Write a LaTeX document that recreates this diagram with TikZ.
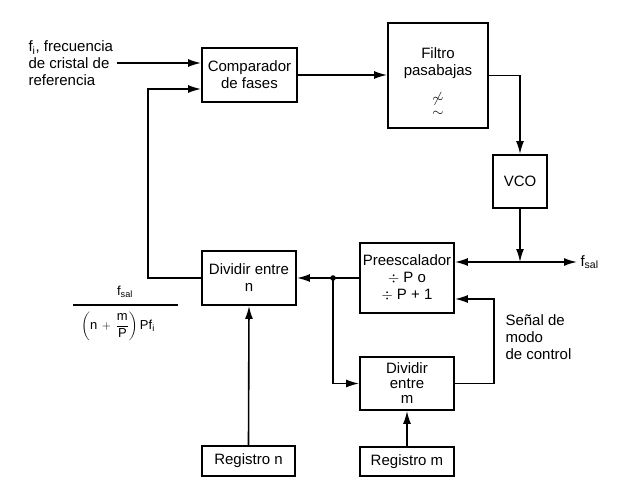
\documentclass[tikz,border=0pt]{standalone}
\usepackage{amsmath}
\usepackage{fontspec}
\setmainfont{Liberation Sans}
\usetikzlibrary{arrows.meta}

\begin{document}
\begin{tikzpicture}[x=1pt,y=-1pt,
    font=\fontsize{15}{17}\selectfont,
    blk/.style={draw,line width=1.8pt,align=center,inner sep=1pt},
    con/.style={line width=1.6pt,-{Latex[length=13pt,width=8pt]}}]
  \useasboundingbox (0,0) rectangle (633,495);

  % bloques
  \node[blk,minimum width=95pt,minimum height=54pt] (comp) at (249.5,75) {Comparador\\de fases};
  \node[blk,minimum width=100pt,minimum height=105pt] (filtro) at (438,75.5) {};
  \node[align=center] (filtxt) at (438,82) {Filtro\\pasabajas\\[10pt]$\not\sim$\\[-3pt]$\sim$};
  \node[blk,minimum width=54pt,minimum height=53pt] (vco) at (520,181.5) {VCO};
  \node[blk,minimum width=94pt,minimum height=70pt] (pre) at (407,278) {Preescalador\\$\div$ P o\\$\div$ P + 1};
  \node[blk,minimum width=94pt,minimum height=54pt] (divn) at (249,278) {Dividir entre\\n};
  \node[blk,minimum width=94pt,minimum height=53pt] (divm) at (407,383.5) {Dividir\\[-2pt]entre\\[-2pt]m};
  \node[blk,minimum width=93pt,minimum height=30pt] (regn) at (248.5,461) {Registro n};
  \node[blk,minimum width=94pt,minimum height=29pt] (regm) at (407,461.5) {Registro m};

  % textos
  \node[anchor=west,align=left] (fi) at (25,63) {f\textsubscript{i}, frecuencia\\de cristal de\\referencia};
  \node[anchor=west,align=left] (senal) at (502,337) {Señal de\\modo\\de control};
  \node[font=\fontsize{13}{15}\selectfont] (num) at (125,292) {f\textsubscript{sal}};
  \draw[line width=1.2pt] (73,305) -- (178,305);
  \node[font=\fontsize{13}{15}\selectfont,inner sep=0pt] (den) at (118,326) {$\left(\text{n}\,+\,\dfrac{\text{m}}{\text{P}}\right)$\,Pf\textsubscript{i}};

  \coordinate (tap) at (520,262);
  \coordinate (salida) at (577,262);
  \coordinate (split) at (333,278);
  \node[anchor=west] (fsal) at (salida) {f\textsubscript{sal}};

  % conexiones
  \draw[con] (fi.east) -- (fi.east -| comp.west);
  \draw[con] (comp.east) -- (comp.east -| filtro.west);
  \draw[con] (filtro.east) -| (vco.north);
  \draw[con] (vco.south) -- (tap);
  \draw[con] (tap) -- (tap -| pre.east);
  \draw[con] (tap) -- (salida);
  \draw[con] (pre.west) -- (divn.east);
  \fill (split) circle (2.8pt);
  \draw[con] (split) |- (divm.west);
  \draw[con] (divm.east) -- ++(39,0) |- ([yshift=-21pt]pre.east);
  \draw[con] (divn.west) -- ++(-53,0) |- ([yshift=-14pt]comp.west);
  \draw[con] (regn.north) -- (divn.south);
  \draw[con] (regm.north) -- (divm.south);
\end{tikzpicture}
\end{document}
